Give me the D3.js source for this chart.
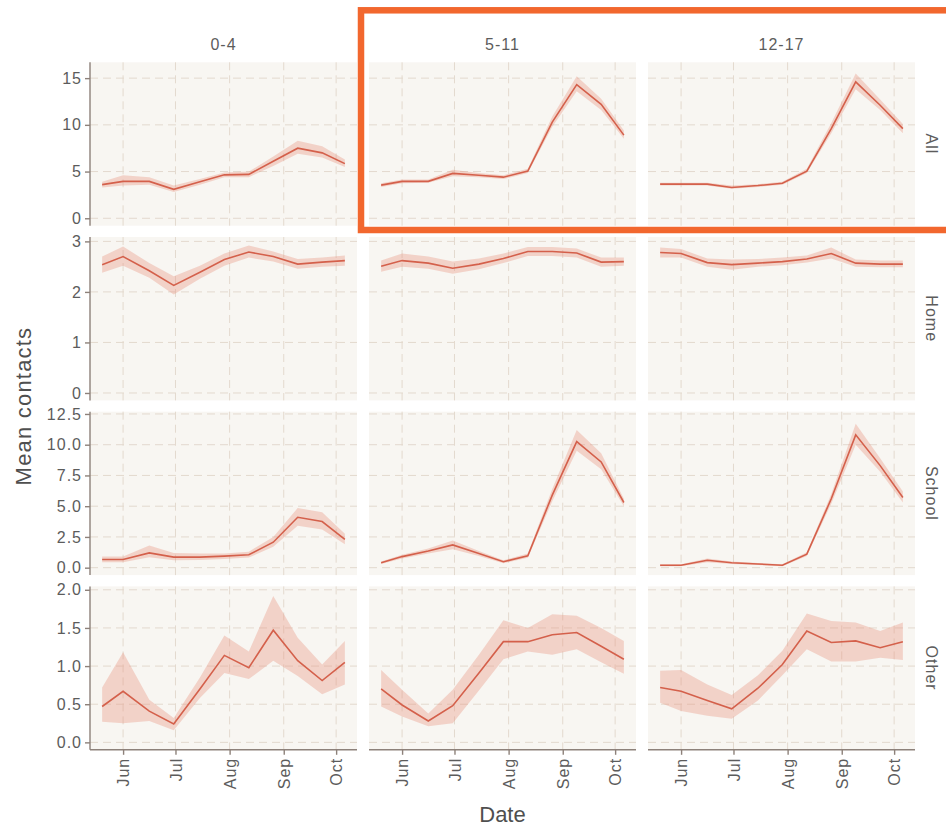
<!DOCTYPE html>
<html>
<head>
<meta charset="utf-8">
<script src="https://cdn.jsdelivr.net/npm/d3@7"></script>
<style>
  body { margin: 0; background: #fff; }
  text { font-family: "Liberation Sans", Arial, sans-serif; }
</style>
</head>
<body>
<svg id="chart"></svg>
<script>
// survey rounds (2020)
var dates = ["2020-05-20", "2020-06-01", "2020-06-16", "2020-06-30", "2020-07-15",
             "2020-07-29", "2020-08-12", "2020-08-26", "2020-09-09", "2020-09-23", "2020-10-06"];

var ageGroups = ["0-4", "5-11", "12-17"];
var contactTypes = ["All", "Home", "School", "Other"];

// one inner array per age group: 0-4, 5-11, 12-17
var allMean = [
    [3.6, 3.95, 3.95, 3.1, 3.9, 4.65, 4.7, 6.1, 7.5, 7.0, 5.85],
    [3.55, 3.95, 3.95, 4.8, 4.6, 4.4, 5.05, 10.3, 14.3, 12.2, 8.9],
    [3.65, 3.65, 3.65, 3.3, 3.5, 3.75, 5.05, 9.6, 14.6, 12.1, 9.6]
];
var allLow = [
    [3.3, 3.5, 3.6, 2.8, 3.6, 4.4, 4.4, 5.6, 6.9, 6.5, 5.5],
    [3.35, 3.75, 3.8, 4.5, 4.4, 4.2, 4.85, 9.8, 13.6, 11.6, 8.5],
    [3.5, 3.5, 3.5, 3.15, 3.35, 3.6, 4.85, 9.1, 13.8, 11.6, 9.1]
];
var allHigh = [
    [3.9, 4.6, 4.4, 3.5, 4.2, 4.9, 5.0, 6.6, 8.3, 7.7, 6.3],
    [3.75, 4.15, 4.15, 5.2, 4.85, 4.6, 5.3, 10.9, 15.2, 12.8, 9.4],
    [3.8, 3.8, 3.8, 3.5, 3.65, 3.9, 5.3, 10.2, 15.5, 12.7, 10.1]
];

var homeMean = [
    [2.54, 2.70, 2.42, 2.13, 2.39, 2.64, 2.79, 2.70, 2.55, 2.59, 2.62],
    [2.51, 2.62, 2.57, 2.47, 2.55, 2.66, 2.80, 2.80, 2.77, 2.59, 2.60],
    [2.78, 2.76, 2.58, 2.54, 2.57, 2.60, 2.65, 2.76, 2.57, 2.55, 2.55]
];
var homeLow = [
    [2.38, 2.52, 2.28, 1.95, 2.26, 2.52, 2.68, 2.60, 2.46, 2.50, 2.52],
    [2.40, 2.50, 2.46, 2.36, 2.45, 2.57, 2.71, 2.71, 2.68, 2.50, 2.52],
    [2.68, 2.68, 2.50, 2.44, 2.50, 2.53, 2.58, 2.66, 2.50, 2.49, 2.49]
];
var homeHigh = [
    [2.70, 2.90, 2.57, 2.31, 2.52, 2.76, 2.92, 2.80, 2.65, 2.68, 2.72],
    [2.62, 2.76, 2.70, 2.60, 2.66, 2.76, 2.89, 2.89, 2.86, 2.68, 2.68],
    [2.88, 2.85, 2.66, 2.64, 2.65, 2.68, 2.72, 2.88, 2.64, 2.62, 2.62]
];

var schoolMean = [
    [0.67, 0.67, 1.2, 0.86, 0.86, 0.94, 1.05, 2.07, 4.1, 3.75, 2.3],
    [0.4, 0.9, 1.35, 1.85, 1.15, 0.48, 0.97, 5.9, 10.25, 8.6, 5.3],
    [0.2, 0.2, 0.6, 0.4, 0.3, 0.2, 1.1, 5.6, 10.8, 8.3, 5.7]
];
var schoolLow = [
    [0.45, 0.45, 0.85, 0.6, 0.62, 0.7, 0.82, 1.7, 3.4, 3.1, 1.9],
    [0.3, 0.75, 1.15, 1.5, 0.95, 0.35, 0.8, 5.4, 9.5, 8.0, 5.0],
    [0.12, 0.12, 0.45, 0.3, 0.22, 0.12, 0.95, 5.2, 10.0, 7.8, 5.3]
];
var schoolHigh = [
    [0.9, 0.9, 1.8, 1.2, 1.15, 1.15, 1.3, 2.5, 4.85, 4.5, 2.75],
    [0.5, 1.05, 1.55, 2.2, 1.35, 0.6, 1.15, 6.4, 11.2, 9.3, 5.6],
    [0.28, 0.28, 0.75, 0.5, 0.38, 0.28, 1.25, 6.0, 11.7, 8.9, 6.2]
];

var otherMean = [
    [0.47, 0.67, 0.41, 0.24, 0.70, 1.14, 0.98, 1.47, 1.07, 0.81, 1.05],
    [0.70, 0.49, 0.28, 0.48, 0.91, 1.32, 1.32, 1.41, 1.44, 1.26, 1.09],
    [0.72, 0.67, 0.55, 0.44, 0.71, 1.02, 1.46, 1.31, 1.33, 1.24, 1.32]
];
var otherLow = [
    [0.27, 0.25, 0.28, 0.16, 0.58, 0.91, 0.83, 1.07, 0.87, 0.63, 0.76],
    [0.47, 0.34, 0.21, 0.25, 0.68, 1.09, 1.19, 1.15, 1.22, 1.05, 0.90],
    [0.52, 0.41, 0.35, 0.31, 0.55, 0.88, 1.22, 1.06, 1.06, 1.11, 1.08]
];
var otherHigh = [
    [0.72, 1.18, 0.56, 0.32, 0.85, 1.40, 1.19, 1.92, 1.37, 1.02, 1.33],
    [0.95, 0.69, 0.38, 0.69, 1.15, 1.60, 1.50, 1.68, 1.66, 1.50, 1.33],
    [0.94, 0.95, 0.76, 0.62, 0.88, 1.20, 1.69, 1.59, 1.57, 1.46, 1.57]
];

// free y scale per row: upper data limit (lower limit is 0)
var rowLimits = [15.9, 2.94, 12.08, 1.947];
var yTicks = [
    [0, 5, 10, 15],
    [0, 1, 2, 3],
    [0, 2.5, 5, 7.5, 10, 12.5],
    [0, 0.5, 1, 1.5, 2]
];
var yFormats = ["d", "d", ".1f", ".1f"];
var xTickDates = ["2020-06-01", "2020-07-01", "2020-08-01", "2020-09-01", "2020-10-01"];

var width = 946
  , height = 827
  , panelLeft = 90
  , panelTop = 62.3
  , panelW = 267
  , panelH = 163.4
  , colStep = 279
  , rowStep = 174.7
  , lineColor = "#d4604b"
  , ribbonColor = "#e8907c"
  , gridColor = "#e3d9ce"
  , axisColor = "#8d817a"
  , textColor = "#5c5c5c"
  , parse = d3.timeParse("%Y-%m-%d")
;

var series = {
    All: [allMean, allLow, allHigh],
    Home: [homeMean, homeLow, homeHigh],
    School: [schoolMean, schoolLow, schoolHigh],
    Other: [otherMean, otherLow, otherHigh]
};

var svg = d3.select("#chart")
    .attr("width", width)
    .attr("height", height)
    .attr("viewBox", [0, 0, width, height].join(" "))
;
svg.append("rect").attr("width", width).attr("height", height).attr("fill", "#fff");

// x scale with ggplot style 5% expansion
var dateObjs = dates.map(parse)
  , x0 = d3.min(dateObjs)
  , x1 = d3.max(dateObjs)
  , xPad = (x1 - x0) * 0.05
  , x = d3.scaleTime()
        .domain([new Date(+x0 - xPad), new Date(+x1 + xPad)])
        .range([0, panelW])
  , xTicks = xTickDates.map(parse)
;

contactTypes.forEach(function(type, r) {
    var M = rowLimits[r]
      , y = d3.scaleLinear()
            .domain([-0.05 * M, 1.05 * M])
            .range([panelH, 0])
      , fmt = d3.format(yFormats[r])
    ;

    ageGroups.forEach(function(age, c) {
        var g = svg.append("g")
            .attr("class", "panel")
            .attr("transform", "translate(" + (panelLeft + c * colStep) + "," + (panelTop + r * rowStep) + ")")
        ;
        var pts = dates.map(function(d, i) {
            return {
                date: dateObjs[i],
                mean: series[type][0][c][i],
                lo: series[type][1][c][i],
                hi: series[type][2][c][i]
            };
        });

        g.append("rect")
            .attr("width", panelW)
            .attr("height", panelH)
            .attr("fill", "#f8f6f2")
        ;
        // grid
        g.selectAll(".hgrid")
            .data(yTicks[r])
          .enter().append("line")
            .attr("x1", 0).attr("x2", panelW)
            .attr("y1", y).attr("y2", y)
            .attr("stroke", gridColor)
            .attr("stroke-dasharray", "8,5")
        ;
        g.selectAll(".vgrid")
            .data(xTicks)
          .enter().append("line")
            .attr("x1", x).attr("x2", x)
            .attr("y1", 0).attr("y2", panelH)
            .attr("stroke", gridColor)
            .attr("stroke-dasharray", "8,5")
        ;

        g.append("path")
            .datum(pts)
            .attr("fill", ribbonColor)
            .attr("fill-opacity", 0.35)
            .attr("d", d3.area()
                .x(function(d) { return x(d.date); })
                .y0(function(d) { return y(d.lo); })
                .y1(function(d) { return y(d.hi); }))
        ;
        g.append("path")
            .datum(pts)
            .attr("fill", "none")
            .attr("stroke", lineColor)
            .attr("stroke-width", 1.6)
            .attr("d", d3.line()
                .x(function(d) { return x(d.date); })
                .y(function(d) { return y(d.mean); }))
        ;

        // y axis only on the first column
        if(c === 0) {
            var ya = g.append("g")
                .call(d3.axisLeft(y).tickValues(yTicks[r]).tickFormat(fmt).tickSize(5).tickPadding(3))
            ;
            ya.select(".domain").attr("d", "M0,0V" + panelH);
        }
        // x axis only on the bottom row
        if(r === contactTypes.length - 1) {
            var xa = g.append("g")
                .attr("transform", "translate(0," + panelH + ")")
                .call(d3.axisBottom(x).tickValues(xTicks).tickFormat(d3.timeFormat("%b")).tickSize(5).tickPadding(3))
            ;
            xa.select(".domain").attr("d", "M0,0H" + panelW);
            xa.selectAll(".tick text")
                .attr("transform", "rotate(-90)")
                .attr("text-anchor", "end")
                .attr("x", -8)
                .attr("y", 0)
                .attr("dy", "0.35em")
            ;
        }
        g.selectAll(".domain, .tick line")
            .attr("stroke", axisColor)
            .attr("stroke-width", 1.4)
        ;
        g.selectAll(".tick text")
            .attr("fill", textColor)
            .style("font-size", "16px")
            .style("letter-spacing", "1px")
        ;
    });

    // row strip
    svg.append("text")
        .attr("transform", "translate(" + 932 + "," + (panelTop + r * rowStep + panelH / 2) + ") rotate(90)")
        .attr("text-anchor", "middle")
        .attr("dy", "0.35em")
        .attr("fill", textColor)
        .style("font-size", "16px")
        .style("letter-spacing", "1px")
        .text(type)
    ;
});

// column strips
svg.selectAll(".colstrip")
    .data(ageGroups)
  .enter().append("text")
    .attr("x", function(d, i) { return panelLeft + i * colStep + panelW / 2; })
    .attr("y", 50)
    .attr("text-anchor", "middle")
    .attr("fill", textColor)
    .style("font-size", "16px")
    .style("letter-spacing", "1px")
    .text(function(d) { return d; })
;

// axis titles
svg.append("text")
    .attr("x", panelLeft + (2 * colStep + panelW) / 2)
    .attr("y", 822)
    .attr("text-anchor", "middle")
    .attr("fill", "#4f4f4f")
    .style("font-size", "22px")
    .text("Date")
;
svg.append("text")
    .attr("transform", "translate(31," + (panelTop + (3 * rowStep + panelH) / 2) + ") rotate(-90)")
    .attr("text-anchor", "middle")
    .attr("fill", "#4f4f4f")
    .style("font-size", "22px")
    .style("letter-spacing", "1.2px")
    .text("Mean contacts")
;

// highlight box round the 5-11 and 12-17 "All" panels
svg.append("rect")
    .attr("x", 361)
    .attr("y", 10.3)
    .attr("width", 590)
    .attr("height", 219.7)
    .attr("fill", "none")
    .attr("stroke", "#f2672e")
    .attr("stroke-width", 6.5)
;
</script>
</body>
</html>
